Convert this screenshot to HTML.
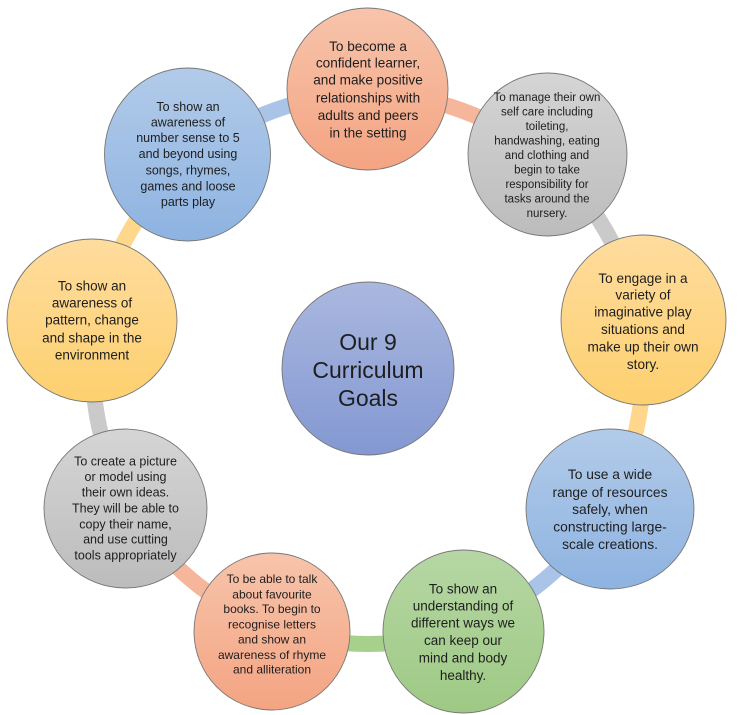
<!DOCTYPE html>
<html>
<head>
<meta charset="utf-8">
<style>
  html, body { margin: 0; padding: 0; background: #ffffff; }
  body { width: 745px; height: 715px; overflow: hidden; }
  svg { display: block; }
  text { font-family: "Liberation Sans", "DejaVu Sans", sans-serif; fill: #1e1e1e; text-anchor: middle; }
</style>
</head>
<body>
<svg width="745" height="715" viewBox="0 0 745 715" xmlns="http://www.w3.org/2000/svg">
  <defs>
    <linearGradient id="gOr" x1="0" y1="0" x2="0" y2="1">
      <stop offset="0" stop-color="#f7c4ab"/>
      <stop offset="1" stop-color="#f4a482"/>
    </linearGradient>
    <linearGradient id="gBl" x1="0" y1="0" x2="0" y2="1">
      <stop offset="0" stop-color="#b2cbe9"/>
      <stop offset="1" stop-color="#8eb3e1"/>
    </linearGradient>
    <linearGradient id="gGr" x1="0" y1="0" x2="0" y2="1">
      <stop offset="0" stop-color="#d5d5d5"/>
      <stop offset="1" stop-color="#bcbcbc"/>
    </linearGradient>
    <linearGradient id="gYe" x1="0" y1="0" x2="0" y2="1">
      <stop offset="0" stop-color="#fedc9e"/>
      <stop offset="1" stop-color="#fdd06f"/>
    </linearGradient>
    <linearGradient id="gGn" x1="0" y1="0" x2="0" y2="1">
      <stop offset="0" stop-color="#b6d7a4"/>
      <stop offset="1" stop-color="#9ec984"/>
    </linearGradient>
    <linearGradient id="gCe" x1="0" y1="0" x2="0" y2="1">
      <stop offset="0" stop-color="#aab8df"/>
      <stop offset="1" stop-color="#8398d2"/>
    </linearGradient>
  </defs>

  <!-- ring segments -->
  <g fill="none" stroke-width="16">
    <path d="M368 94 A275 275 0 0 1 544.8 158.3" stroke="#f5b69b"/>
    <path d="M544.8 158.3 A275 275 0 0 1 638.8 321.3" stroke="#cacaca"/>
    <path d="M638.8 321.3 A275 275 0 0 1 606.2 506.5" stroke="#fed78d"/>
    <path d="M606.2 506.5 A275 275 0 0 1 462.1 627.4" stroke="#a9c4e7"/>
    <path d="M462.1 627.4 A275 275 0 0 1 273.9 627.4" stroke="#a8d08d"/>
    <path d="M273.9 627.4 A275 275 0 0 1 129.8 506.5" stroke="#f5b69b"/>
    <path d="M129.8 506.5 A275 275 0 0 1 97.2 321.3" stroke="#cacaca"/>
    <path d="M97.2 321.3 A275 275 0 0 1 191.2 158.3" stroke="#fed78d"/>
    <path d="M191.2 158.3 A275 275 0 0 1 368 94" stroke="#a9c4e7"/>
  </g>

  <!-- nodes -->
  <g stroke="#777777" stroke-width="0.9">
    <ellipse cx="367.5" cy="89" rx="80.5" ry="81" fill="url(#gOr)"/>
    <ellipse cx="547.5" cy="154.5" rx="79.5" ry="81.5" fill="url(#gGr)"/>
    <ellipse cx="643.5" cy="320" rx="82.5" ry="85" fill="url(#gYe)"/>
    <ellipse cx="610" cy="509" rx="84" ry="80" fill="url(#gBl)"/>
    <ellipse cx="463.5" cy="631.5" rx="80.5" ry="81.5" fill="url(#gGn)"/>
    <ellipse cx="272" cy="631.5" rx="78" ry="78.5" fill="url(#gOr)"/>
    <ellipse cx="125.5" cy="508.5" rx="81.5" ry="79.5" fill="url(#gGr)"/>
    <ellipse cx="92" cy="320.5" rx="85" ry="81.5" fill="url(#gYe)"/>
    <ellipse cx="187.5" cy="154.5" rx="83" ry="86.5" fill="url(#gBl)"/>
    <ellipse cx="368" cy="368.5" rx="86" ry="86.5" fill="url(#gCe)"/>
  </g>

  <!-- center text -->
  <g font-size="23">
    <text x="368" y="350">Our 9</text>
    <text x="368" y="378">Curriculum</text>
    <text x="368" y="406">Goals</text>
  </g>

  <!-- top orange -->
  <g font-size="13.6">
    <text x="368" y="50.8">To become a</text>
    <text x="368" y="67.4">confident learner,</text>
    <text x="368" y="84.4">and make positive</text>
    <text x="368" y="102.4">relationships with</text>
    <text x="368" y="119.8">adults and peers</text>
    <text x="368" y="137.4">in the setting</text>
  </g>

  <!-- top-left blue -->
  <g font-size="12.5">
    <text x="188" y="111">To show an</text>
    <text x="188" y="126.4">awareness of</text>
    <text x="188" y="142">number sense to 5</text>
    <text x="188" y="158">and beyond using</text>
    <text x="188" y="174.4">songs, rhymes,</text>
    <text x="188" y="190.4">games and loose</text>
    <text x="188" y="206">parts play</text>
  </g>

  <!-- top-right gray -->
  <g font-size="11.5">
    <text x="547" y="100.8">To manage their own</text>
    <text x="547" y="115.5">self care including</text>
    <text x="547" y="130.2">toileting,</text>
    <text x="547" y="144.5">handwashing, eating</text>
    <text x="547" y="158.8">and clothing and</text>
    <text x="547" y="173.5">begin to take</text>
    <text x="547" y="187.8">responsibility for</text>
    <text x="547" y="202.5">tasks around the</text>
    <text x="547" y="216.8">nursery.</text>
  </g>

  <!-- right yellow -->
  <g font-size="13.6">
    <text x="643" y="283">To engage in a</text>
    <text x="643" y="299.7">variety of</text>
    <text x="643" y="316.7">imaginative play</text>
    <text x="643" y="334">situations and</text>
    <text x="643" y="351.3">make up their own</text>
    <text x="643" y="369">story.</text>
  </g>

  <!-- left yellow -->
  <g font-size="13.5">
    <text x="92" y="290.7">To show an</text>
    <text x="92" y="307.3">awareness of</text>
    <text x="92" y="324.7">pattern, change</text>
    <text x="92" y="342.3">and shape in the</text>
    <text x="92" y="359.7">environment</text>
  </g>

  <!-- bottom-left gray -->
  <g font-size="12.5">
    <text x="125.5" y="465.7">To create a picture</text>
    <text x="125.5" y="481">or model using</text>
    <text x="125.5" y="496.4">their own ideas.</text>
    <text x="125.5" y="512.4">They will be able to</text>
    <text x="125.5" y="528.4">copy their name,</text>
    <text x="125.5" y="543.7">and use cutting</text>
    <text x="125.5" y="559.7">tools appropriately</text>
  </g>

  <!-- bottom orange -->
  <g font-size="12">
    <text x="272" y="582.9">To be able to talk</text>
    <text x="272" y="598.3">about favourite</text>
    <text x="272" y="612.9">books. To begin to</text>
    <text x="272" y="628.6">recognise letters</text>
    <text x="272" y="643.6">and show an</text>
    <text x="272" y="658.9">awareness of rhyme</text>
    <text x="272" y="673.6">and alliteration</text>
  </g>

  <!-- bottom-right blue -->
  <g font-size="13.8">
    <text x="610" y="479.1">To use a wide</text>
    <text x="610" y="496.8">range of resources</text>
    <text x="610" y="514.1">safely, when</text>
    <text x="610" y="531.4">constructing large-</text>
    <text x="610" y="549.1">scale creations.</text>
  </g>

  <!-- green -->
  <g font-size="13.5">
    <text x="463" y="593.3">To show an</text>
    <text x="463" y="610.7">understanding of</text>
    <text x="463" y="627.3">different ways we</text>
    <text x="463" y="645">can keep our</text>
    <text x="463" y="662.7">mind and body</text>
    <text x="463" y="680">healthy.</text>
  </g>
</svg>
</body>
</html>
